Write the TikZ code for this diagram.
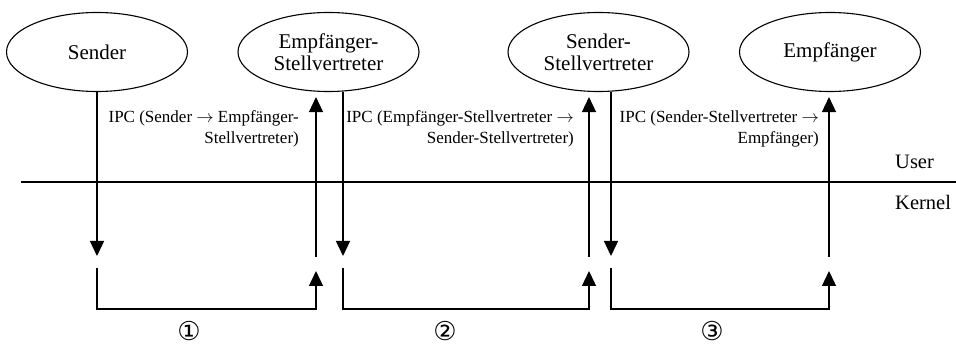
\documentclass[tikz,border=0pt]{standalone}
\usepackage{fontspec}
\setmainfont{Liberation Serif}
\newfontfamily\circfont{DejaVu Sans}
\usepackage{tikz}
\usetikzlibrary{shapes.geometric, arrows.meta, positioning, calc}
\tikzset{
  task/.style={
    ellipse, draw, line width=1.1pt,
    minimum width=181pt, minimum height=79pt,
    inner sep=0pt, align=center,
    font=\fontsize{21}{22}\selectfont,
  },
  arrow/.style={-{Triangle[length=15pt,width=14pt]}, line width=1.4pt},
  line/.style={line width=1.4pt},
  ipc/.style={anchor=east, align=right, inner sep=0pt,
    font=\fontsize{17}{21}\selectfont},
  layer/.style={anchor=west, inner sep=0pt, font=\fontsize{20.5}{22}\selectfont},
  stepnum/.style={font=\circfont\fontsize{26}{26}\selectfont, inner sep=0pt},
}

\begin{document}
\begin{tikzpicture}[x=1pt,y=-1pt]
  \useasboundingbox (0,0) rectangle (956,347);
  % processes
  \node[task] (sender) at (97,52) {Sender};
  \node[task] (esv) at (328.5,52) {Empfänger-\\Stellvertreter};
  \node[task] (ssv) at (598.5,52) {Sender-\\Stellvertreter};
  \node[task] (empf) at (830,52) {Empfänger};
  % user / kernel border
  \coordinate (bl) at (21,182);
  \coordinate (br) at (956,182);
  \draw[line] (bl)--(br);
  \node[layer] (user) at (895,162) {User};
  \node[layer] (kernel) at (895,202) {Kernel};
  % kernel points
  \coordinate (base) at (0,309);
  \coordinate (in1) at (97,256);
  \coordinate (b1) at (97,268);
  \coordinate (e1) at (316,271);
  \coordinate (out1) at (316,257);
  \coordinate (in2) at (343,256);
  \coordinate (b2) at (343,268);
  \coordinate (e2) at (589,271);
  \coordinate (out2) at (589,257);
  \coordinate (in3) at (611,256);
  \coordinate (b3) at (611,268);
  \coordinate (e3) at (829,271);
  \coordinate (out3) at (829,257);
  % step 1
  \draw[arrow] (sender.south)--(in1);
  \draw[arrow] (b1) |- (base -| e1)--(e1);
  \draw[arrow,shorten >=5pt] (out1)--(out1 |- esv.south);
  \node[ipc] (ipc1) at (299,128.5) {IPC (Sender $\rightarrow$ Empfänger-\\Stellvertreter)};
  \node[stepnum] (n1) at (189,331) {①};
  % step 2
  \draw[arrow] (esv.south -| in2)--(in2);
  \draw[arrow] (b2) |- (base -| e2)--(e2);
  \draw[arrow,shorten >=5pt] (out2)--(out2 |- ssv.south);
  \node[ipc] (ipc2) at (574,128.5) {IPC (Empfänger-Stellvertreter $\rightarrow$\\Sender-Stellvertreter)};
  \node[stepnum] (n2) at (445,331) {②};
  % step 3
  \draw[arrow] (ssv.south -| in3)--(in3);
  \draw[arrow] (b3) |- (base -| e3)--(e3);
  \draw[arrow,shorten >=5pt] (out3)--(out3 |- empf.south);
  \node[ipc] (ipc3) at (819,128.5) {IPC (Sender-Stellvertreter $\rightarrow$\\Empfänger)};
  \node[stepnum] (n3) at (712,331) {③};
\end{tikzpicture}
\end{document}
